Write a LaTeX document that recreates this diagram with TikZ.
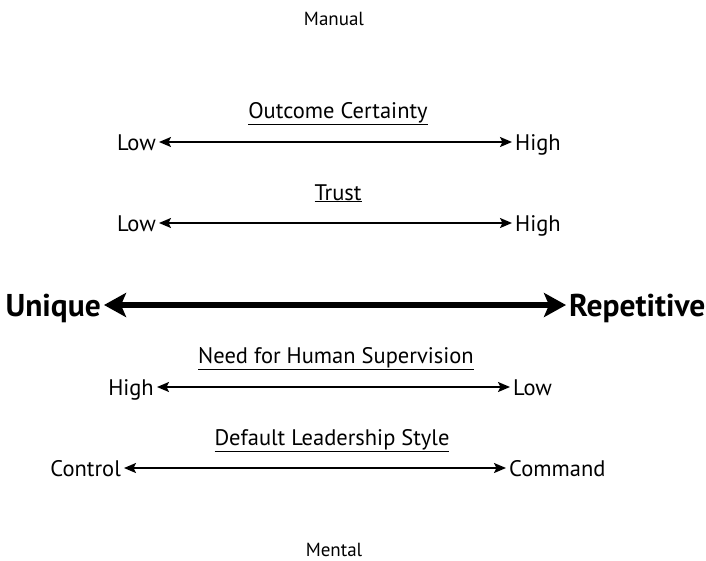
\documentclass[tikz,border=0pt]{standalone}
\usepackage{fontspec}
\setmainfont{PT Sans}
\usetikzlibrary{arrows.meta}
\begin{document}
\begin{tikzpicture}[x=1pt,y=-1pt,
  lbl/.style={inner sep=0pt,font=\fontsize{22.5}{24}\selectfont},
  ttl/.style={inner sep=0pt,anchor=base,font=\fontsize{22.5}{24}\selectfont},
  big/.style={inner sep=0pt,font=\fontsize{31.5}{34}\selectfont\bfseries},
  captxt/.style={inner sep=0pt,anchor=base,font=\fontsize{19}{21}\selectfont},
  thinarrow/.style={line width=2pt,{Stealth[length=12pt,width=10pt,inset=2.5pt]}-{Stealth[length=12pt,width=10pt,inset=2.5pt]}},
  bigarrow/.style={line width=5.5pt,{Stealth[length=22pt,width=24pt,inset=5pt]}-{Stealth[length=22pt,width=24pt,inset=5pt]}}]
\useasboundingbox (0,0) rectangle (706,560);
\node[captxt] (manual) at (334,25) {Manual};
\node[captxt] (mental) at (334,556) {Mental};

% Outcome certainty
\coordinate (a1) at (159,142); \coordinate (b1) at (512,142);
\node[ttl] (t1) at (338,118) {\underline{Outcome Certainty}};
\node[lbl,anchor=base east] (l1) at ([xshift=-3pt,yshift=-8pt]a1) {Low};
\node[lbl,anchor=base west] (r1) at ([xshift=3pt,yshift=-8pt]b1) {High};
\draw[thinarrow] (a1) -- (b1);

% Trust
\coordinate (a2) at (159,223); \coordinate (b2) at (512,223);
\node[ttl] (t2) at (338,200) {\underline{Trust}};
\node[lbl,anchor=base east] (l2) at ([xshift=-3pt,yshift=-8pt]a2) {Low};
\node[lbl,anchor=base west] (r2) at ([xshift=3pt,yshift=-8pt]b2) {High};
\draw[thinarrow] (a2) -- (b2);

% Unique / Repetitive
\coordinate (a3) at (104,305); \coordinate (b3) at (566,305);
\node[big,anchor=base east] (u) at ([xshift=-3pt,yshift=-11pt]a3) {Unique};
\node[big,anchor=base west] (r) at ([xshift=3pt,yshift=-11pt]b3) {Repetitive};
\draw[bigarrow] (a3) -- (b3);

% Need for human supervision
\coordinate (a4) at (157,387); \coordinate (b4) at (510,387);
\node[ttl] (t4) at (336,363) {\underline{Need for Human Supervision}};
\node[lbl,anchor=base east] (l4) at ([xshift=-3pt,yshift=-8pt]a4) {High};
\node[lbl,anchor=base west] (r4) at ([xshift=3pt,yshift=-8pt]b4) {Low};
\draw[thinarrow] (a4) -- (b4);

% Default leadership style
\coordinate (a5) at (124,468); \coordinate (b5) at (506,468);
\node[ttl] (t5) at (332,445) {\underline{Default Leadership Style}};
\node[lbl,anchor=base east] (l5) at ([xshift=-3pt,yshift=-8pt]a5) {Control};
\node[lbl,anchor=base west] (r5) at ([xshift=3pt,yshift=-8pt]b5) {Command};
\draw[thinarrow] (a5) -- (b5);
\end{tikzpicture}
\end{document}
